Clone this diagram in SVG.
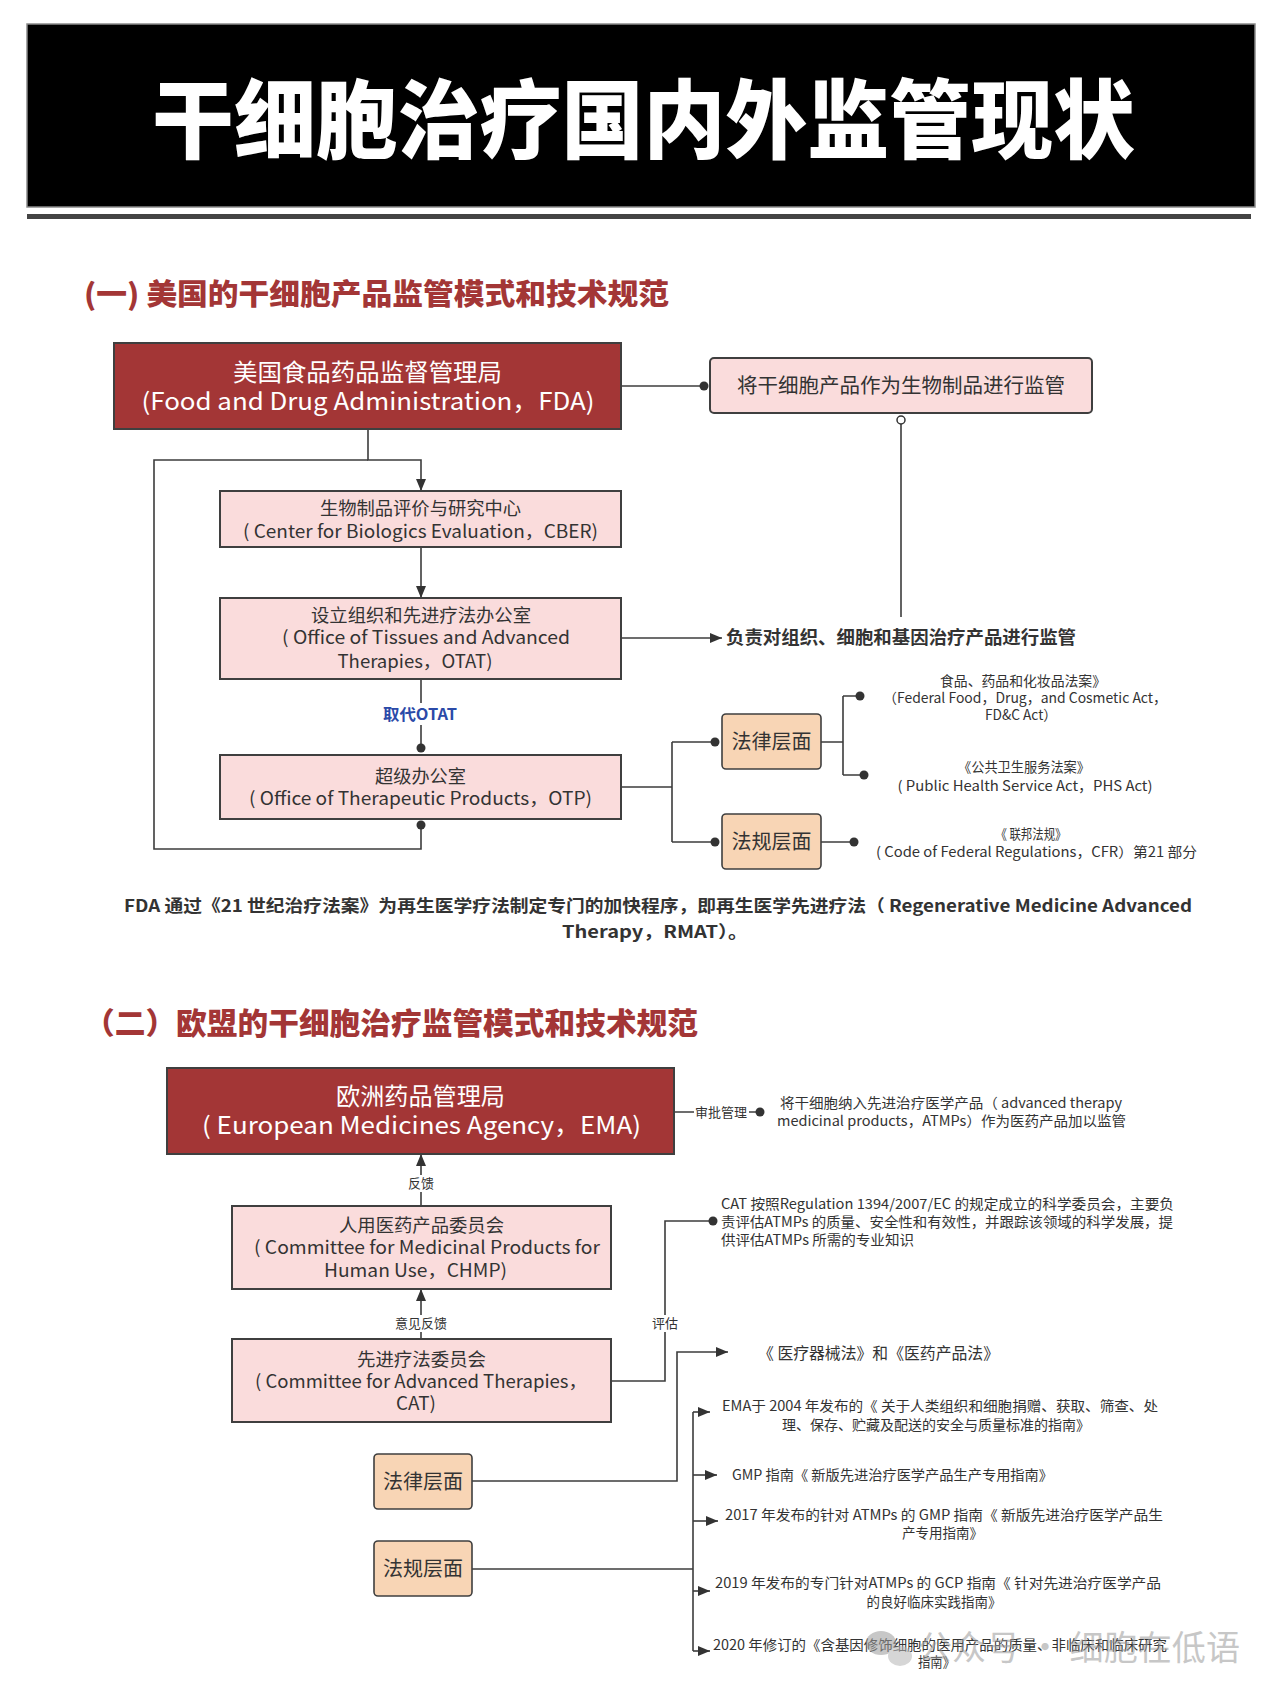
<svg xmlns="http://www.w3.org/2000/svg" width="1280" height="1697" viewBox="0 0 1280 1697">
<style>
.t{font-family:"Noto Sans CJK SC","Noto Sans",sans-serif;fill:#333}
.b{font-weight:700}
.red{fill:#a33636;stroke:#3f3f3f;stroke-width:2}
.pink{fill:#fadcdc;stroke:#3f3f3f;stroke-width:2}
.peach{fill:#f8d5b5;stroke:#3f3f3f;stroke-width:1.6}
.ln{fill:none;stroke:#3c3c3c;stroke-width:1.6}
.dot{fill:#333}
.lbl{fill:#fff}
</style>
<defs>
<marker id="arr" viewBox="0 0 12 10" refX="12" refY="5" markerWidth="12" markerHeight="10" markerUnits="userSpaceOnUse" orient="auto"><path d="M0,0 L12,5 L0,10 z" fill="#333"/></marker>
</defs>
<rect width="1280" height="1697" fill="#fff"/>

<g id="header">
<rect x="27" y="24" width="1228" height="183" fill="#000" stroke="#8a8a8a" stroke-width="1.5"/>
<rect x="27" y="214" width="1224" height="5" fill="#444"/>
<text class="t" x="643.5" y="152" text-anchor="middle" font-size="86" font-weight="900" textLength="983" lengthAdjust="spacingAndGlyphs" style="fill:#fff">干细胞治疗国内外监管现状</text>
</g>

<g id="title1">
<text class="t" x="84" y="305" font-size="29" font-weight="900" textLength="585" lengthAdjust="spacingAndGlyphs" style="fill:#a33636">(一) 美国的干细胞产品监管模式和技术规范</text>
</g>

<g id="connectors">
<!-- section 1 -->
<path class="ln" d="M621,386 H704"/>
<circle class="dot" cx="704" cy="386" r="4.5"/>
<path class="ln" d="M901,424 V617"/>
<circle cx="901" cy="420" r="4" fill="#fff" stroke="#333" stroke-width="1.5"/>
<path class="ln" d="M368,429 V460 H421 V491" marker-end="url(#arr)"/>
<path class="ln" d="M421,825 V849 H154 V460 H368"/>
<circle class="dot" cx="421" cy="825" r="4.5"/>
<path class="ln" d="M421,547 V598" marker-end="url(#arr)"/>
<path class="ln" d="M421,679 V748"/>
<circle class="dot" cx="421" cy="748" r="4.5"/>
<rect class="lbl" x="380" y="703" width="82" height="22"/>
<path class="ln" d="M621,638 H722" marker-end="url(#arr)"/>
<path class="ln" d="M621,787 H672 M672,742 V842 M672,742 H715 M672,842 H715"/>
<circle class="dot" cx="715" cy="742" r="4.5"/>
<circle class="dot" cx="715" cy="842" r="4.5"/>
<path class="ln" d="M821,742 H843 M843,696 V775 M843,696 H860 M843,775 H864"/>
<circle class="dot" cx="860" cy="696" r="4.5"/>
<circle class="dot" cx="864" cy="775" r="4.5"/>
<path class="ln" d="M821,842 H854"/>
<circle class="dot" cx="854" cy="842" r="4.5"/>
<!-- section 2 -->
<path class="ln" d="M674,1112 H760"/>
<circle class="dot" cx="760" cy="1112" r="4.5"/>
<rect class="lbl" x="694" y="1104" width="55" height="17"/>
<path class="ln" d="M421,1206 V1154" marker-end="url(#arr)"/>
<rect class="lbl" x="406" y="1175" width="30" height="17"/>
<path class="ln" d="M421,1339 V1289" marker-end="url(#arr)"/>
<rect class="lbl" x="393" y="1315" width="56" height="17"/>
<path class="ln" d="M611,1381 H665 V1221 H713"/>
<circle class="dot" cx="713" cy="1221" r="4.5"/>
<rect class="lbl" x="650" y="1315" width="30" height="17"/>
<path class="ln" d="M472,1481 H677 V1352 H728" marker-end="url(#arr)"/>
<path class="ln" d="M472,1569 H693"/>
<path class="ln" d="M693,1412 V1651"/>
<path class="ln" d="M693,1412 H710" marker-end="url(#arr)"/>
<path class="ln" d="M693,1475 H717" marker-end="url(#arr)"/>
<path class="ln" d="M693,1521 H718" marker-end="url(#arr)"/>
<path class="ln" d="M693,1591 H710" marker-end="url(#arr)"/>
<path class="ln" d="M693,1651 H710" marker-end="url(#arr)"/>
</g>

<g id="fda">
<rect class="red" x="114" y="343" width="507" height="86"/>
<text class="t" x="367.5" y="381" text-anchor="middle" font-size="24" textLength="269" lengthAdjust="spacingAndGlyphs" style="fill:#fff">美国食品药品监督管理局</text>
<text class="t" x="368" y="410" text-anchor="middle" font-size="24" textLength="453" lengthAdjust="spacingAndGlyphs" style="fill:#fff">(Food and Drug Administration，FDA)</text>
</g>

<g id="bio-reg">
<rect class="pink" x="710" y="358" width="382" height="55" rx="4"/>
<text class="t" x="901" y="393" text-anchor="middle" font-size="20" textLength="328" lengthAdjust="spacingAndGlyphs">将干细胞产品作为生物制品进行监管</text>
</g>

<g id="cber">
<rect class="pink" x="220" y="491" width="401" height="56"/>
<text class="t" x="420.5" y="515" text-anchor="middle" font-size="18" textLength="201" lengthAdjust="spacingAndGlyphs">生物制品评价与研究中心</text>
<text class="t" x="420.5" y="538" text-anchor="middle" font-size="18" textLength="355" lengthAdjust="spacingAndGlyphs">( Center for Biologics Evaluation，CBER)</text>
</g>

<g id="otat">
<rect class="pink" x="220" y="598" width="401" height="81"/>
<text class="t" x="421" y="622" text-anchor="middle" font-size="18" textLength="220" lengthAdjust="spacingAndGlyphs">设立组织和先进疗法办公室</text>
<text class="t" x="426" y="644" text-anchor="middle" font-size="18" textLength="288" lengthAdjust="spacingAndGlyphs">( Office of Tissues and Advanced</text>
<text class="t" x="415" y="668" text-anchor="middle" font-size="18" textLength="155" lengthAdjust="spacingAndGlyphs">Therapies，OTAT)</text>
</g>

<g id="replace-label">
<text class="t b" x="420" y="720" text-anchor="middle" font-size="16" textLength="74" lengthAdjust="spacingAndGlyphs" style="fill:#2b4aa8">取代OTAT</text>
</g>

<g id="otat-duty">
<text class="t b" x="726" y="644" font-size="18" textLength="350" lengthAdjust="spacingAndGlyphs">负责对组织、细胞和基因治疗产品进行监管</text>
</g>

<g id="otp">
<rect class="pink" x="220" y="755" width="401" height="64"/>
<text class="t" x="420.5" y="783" text-anchor="middle" font-size="18" textLength="91" lengthAdjust="spacingAndGlyphs">超级办公室</text>
<text class="t" x="420.5" y="805" text-anchor="middle" font-size="18" textLength="343" lengthAdjust="spacingAndGlyphs">( Office of Therapeutic Products，OTP)</text>
</g>

<g id="law1">
<rect class="peach" x="722" y="714" width="99" height="55" rx="4"/>
<text class="t" x="771.5" y="749" text-anchor="middle" font-size="20">法律层面</text>
</g>

<g id="reg1">
<rect class="peach" x="722" y="814" width="99" height="55" rx="4"/>
<text class="t" x="771.5" y="849" text-anchor="middle" font-size="20">法规层面</text>
</g>

<g id="fdc-act">
<text class="t" x="1023" y="686" text-anchor="middle" font-size="14" textLength="166" lengthAdjust="spacingAndGlyphs">食品、药品和化妆品法案》</text>
<text class="t" x="1025" y="703" text-anchor="middle" font-size="14" textLength="284" lengthAdjust="spacingAndGlyphs">（Federal Food，Drug，and Cosmetic Act，</text>
<text class="t" x="1021" y="720" text-anchor="middle" font-size="14" textLength="72" lengthAdjust="spacingAndGlyphs">FD&amp;C Act）</text>
</g>

<g id="phs-act">
<text class="t" x="1024" y="772" text-anchor="middle" font-size="14" textLength="132" lengthAdjust="spacingAndGlyphs">《公共卫生服务法案》</text>
<text class="t" x="1025" y="791" text-anchor="middle" font-size="14" textLength="255" lengthAdjust="spacingAndGlyphs">( Public Health Service Act，PHS Act)</text>
</g>

<g id="cfr">
<text class="t" x="1031" y="839" text-anchor="middle" font-size="14" textLength="71" lengthAdjust="spacingAndGlyphs">《 联邦法规》</text>
<text class="t" x="1036.5" y="857" text-anchor="middle" font-size="14" textLength="321" lengthAdjust="spacingAndGlyphs">( Code of Federal Regulations，CFR）第21 部分</text>
</g>

<g id="note">
<text class="t b" x="658" y="912" text-anchor="middle" font-size="17" textLength="1068" lengthAdjust="spacingAndGlyphs">FDA 通过《21 世纪治疗法案》为再生医学疗法制定专门的加快程序，即再生医学先进疗法（ Regenerative Medicine Advanced</text>
<text class="t b" x="655" y="938" text-anchor="middle" font-size="17" textLength="186" lengthAdjust="spacingAndGlyphs">Therapy，RMAT）。</text>
</g>

<g id="title2">
<text class="t" x="84" y="1034" font-size="30" font-weight="900" textLength="614" lengthAdjust="spacingAndGlyphs" style="fill:#a33636">（二）欧盟的干细胞治疗监管模式和技术规范</text>
</g>

<g id="ema">
<rect class="red" x="167" y="1068" width="507" height="86"/>
<text class="t" x="420.5" y="1105" text-anchor="middle" font-size="24" textLength="169" lengthAdjust="spacingAndGlyphs" style="fill:#fff">欧洲药品管理局</text>
<text class="t" x="421.5" y="1134" text-anchor="middle" font-size="24" textLength="439" lengthAdjust="spacingAndGlyphs" style="fill:#fff">( European Medicines Agency，EMA)</text>
</g>

<g id="edge-labels">
<text class="t" x="721" y="1117" text-anchor="middle" font-size="13" textLength="52" lengthAdjust="spacingAndGlyphs">审批管理</text>
<text class="t" x="421" y="1188" text-anchor="middle" font-size="13">反馈</text>
<text class="t" x="421" y="1328" text-anchor="middle" font-size="13">意见反馈</text>
<text class="t" x="665" y="1328" text-anchor="middle" font-size="13">评估</text>
</g>

<g id="atmp-desc">
<text class="t" x="951" y="1108" text-anchor="middle" font-size="14" textLength="342" lengthAdjust="spacingAndGlyphs">将干细胞纳入先进治疗医学产品（ advanced therapy</text>
<text class="t" x="951.5" y="1126" text-anchor="middle" font-size="14" textLength="349" lengthAdjust="spacingAndGlyphs">medicinal products，ATMPs）作为医药产品加以监管</text>
</g>

<g id="chmp">
<rect class="pink" x="232" y="1206" width="379" height="83"/>
<text class="t" x="421.5" y="1232" text-anchor="middle" font-size="18" textLength="165" lengthAdjust="spacingAndGlyphs">人用医药产品委员会</text>
<text class="t" x="427" y="1254" text-anchor="middle" font-size="18" textLength="346" lengthAdjust="spacingAndGlyphs">( Committee for Medicinal Products for</text>
<text class="t" x="415.5" y="1277" text-anchor="middle" font-size="18" textLength="183" lengthAdjust="spacingAndGlyphs">Human Use，CHMP)</text>
</g>

<g id="cat-desc">
<text class="t" x="721" y="1209" font-size="14" textLength="453" lengthAdjust="spacingAndGlyphs">CAT 按照Regulation 1394/2007/EC 的规定成立的科学委员会，主要负</text>
<text class="t" x="721" y="1227" font-size="14" textLength="452" lengthAdjust="spacingAndGlyphs">责评估ATMPs 的质量、安全性和有效性，并跟踪该领域的科学发展，提</text>
<text class="t" x="721" y="1245" font-size="14" textLength="193" lengthAdjust="spacingAndGlyphs">供评估ATMPs 所需的专业知识</text>
</g>

<g id="cat">
<rect class="pink" x="232" y="1339" width="379" height="83"/>
<text class="t" x="421.5" y="1366" text-anchor="middle" font-size="18" textLength="129" lengthAdjust="spacingAndGlyphs">先进疗法委员会</text>
<text class="t" x="421" y="1388" text-anchor="middle" font-size="18" textLength="332" lengthAdjust="spacingAndGlyphs">( Committee for Advanced Therapies，</text>
<text class="t" x="416" y="1410" text-anchor="middle" font-size="18" textLength="40" lengthAdjust="spacingAndGlyphs">CAT)</text>
</g>

<g id="law2">
<rect class="peach" x="374" y="1454" width="98" height="55" rx="4"/>
<text class="t" x="423" y="1489" text-anchor="middle" font-size="20">法律层面</text>
</g>

<g id="reg2">
<rect class="peach" x="374" y="1541" width="98" height="55" rx="4"/>
<text class="t" x="423" y="1576" text-anchor="middle" font-size="20">法规层面</text>
</g>

<g id="eu-laws">
<text class="t" x="758" y="1359" font-size="16" textLength="241" lengthAdjust="spacingAndGlyphs">《 医疗器械法》和《医药产品法》</text>
</g>

<g id="guide-2004">
<text class="t" x="940" y="1411" text-anchor="middle" font-size="14" textLength="436" lengthAdjust="spacingAndGlyphs">EMA于 2004 年发布的《 关于人类组织和细胞捐赠、获取、筛查、处</text>
<text class="t" x="936" y="1430" text-anchor="middle" font-size="14" textLength="308" lengthAdjust="spacingAndGlyphs">理、保存、贮藏及配送的安全与质量标准的指南》</text>
</g>

<g id="guide-gmp">
<text class="t" x="732" y="1480" font-size="14" textLength="321" lengthAdjust="spacingAndGlyphs">GMP 指南《 新版先进治疗医学产品生产专用指南》</text>
</g>

<g id="guide-2017">
<text class="t" x="944" y="1520" text-anchor="middle" font-size="14" textLength="438" lengthAdjust="spacingAndGlyphs">2017 年发布的针对 ATMPs 的 GMP 指南《 新版先进治疗医学产品生</text>
<text class="t" x="942.5" y="1538" text-anchor="middle" font-size="14" textLength="81" lengthAdjust="spacingAndGlyphs">产专用指南》</text>
</g>

<g id="guide-2019">
<text class="t" x="938" y="1588" text-anchor="middle" font-size="14" textLength="446" lengthAdjust="spacingAndGlyphs">2019 年发布的专门针对ATMPs 的 GCP 指南《 针对先进治疗医学产品</text>
<text class="t" x="934" y="1607" text-anchor="middle" font-size="14" textLength="135" lengthAdjust="spacingAndGlyphs">的良好临床实践指南》</text>
</g>

<g id="guide-2020">
<text class="t" x="940" y="1650" text-anchor="middle" font-size="14" textLength="454" lengthAdjust="spacingAndGlyphs">2020 年修订的《含基因修饰细胞的医用产品的质量、非临床和临床研究</text>
<text class="t" x="936.5" y="1667" text-anchor="middle" font-size="14" textLength="37" lengthAdjust="spacingAndGlyphs">指南》</text>
</g>

<g id="watermark" opacity="0.55">
<ellipse cx="881" cy="1643" rx="15" ry="12" fill="#9a9a9a"/>
<ellipse cx="900" cy="1656" rx="12" ry="10" fill="#b5b5b5"/>
<text class="t" x="918" y="1660" font-size="34" textLength="322" lengthAdjust="spacingAndGlyphs" style="fill:#9a9a9a">公众号 · 细胞在低语</text>
</g>
</svg>
